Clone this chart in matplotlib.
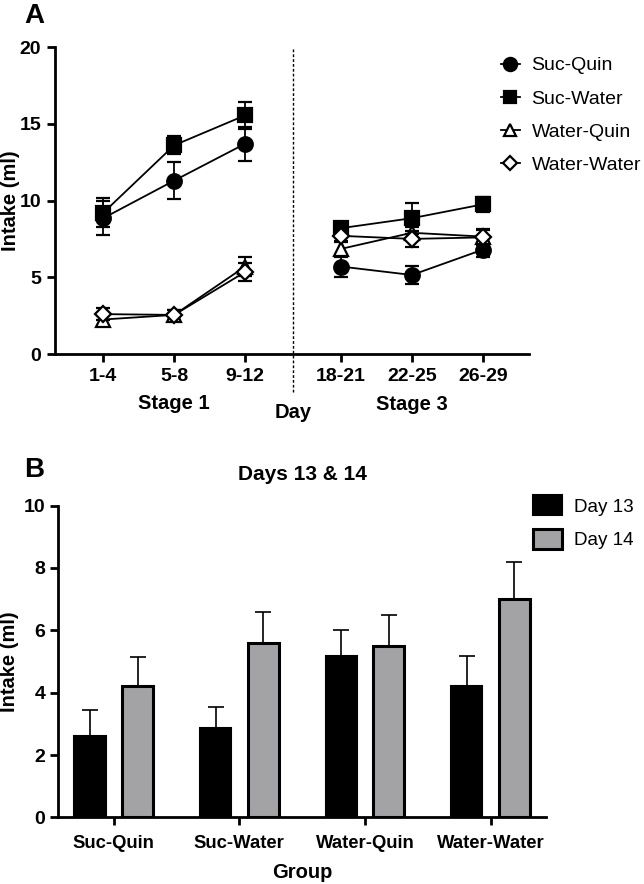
import numpy as np
import matplotlib.pyplot as plt
from matplotlib.lines import Line2D

plt.rcParams['font.family'] = ['Liberation Sans', 'DejaVu Sans']

# panel A data
day_labels = ["1-4", "5-8", "9-12", "18-21", "22-25", "26-29"]
groups = ["Suc-Quin", "Suc-Water", "Water-Quin", "Water-Water"]
suc_quin = [8.85, 11.3, 13.7, 5.7, 5.15, 6.8]
suc_quin_err = [1.1, 1.2, 1.1, 0.7, 0.6, 0.5]
suc_water = [9.2, 13.6, 15.55, 8.2, 8.85, 9.75]
suc_water_err = [0.95, 0.6, 0.9, 0.4, 1.0, 0.5]
water_quin = [2.25, 2.55, 5.7, 6.85, 7.9, 7.65]
water_quin_err = [0.4, 0.3, 0.6, 0.5, 0.4, 0.5]
water_water = [2.6, 2.55, 5.35, 7.7, 7.5, 7.6]
water_water_err = [0.4, 0.3, 0.6, 0.4, 0.5, 0.5]

# panel B data
day13 = [2.6, 2.88, 5.19, 4.22]
day13_err = [0.85, 0.67, 0.82, 0.97]
day14 = [4.22, 5.58, 5.5, 7.0]
day14_err = [0.93, 1.0, 0.99, 1.18]

fig = plt.figure(figsize=(6.44, 8.84), dpi=100)

# ---------------- A ----------------
ax = fig.add_axes([0.0854, 0.5995, 0.736, 0.3473])
xpos = np.array([0, 1, 2, 3.35, 4.35, 5.35])
styles = [
    (suc_quin, suc_quin_err, "o", "black", 10.5),
    (suc_water, suc_water_err, "s", "black", 10),
    (water_quin, water_quin_err, "^", "white", 10),
    (water_water, water_water_err, "D", "white", 8),
]
handles = []
for (vals, err, m, fc, ms), lab in zip(styles, groups):
    for seg in [slice(0, 3), slice(3, 6)]:
        ax.errorbar(xpos[seg], np.array(vals)[seg], yerr=np.array(err)[seg],
                    marker=m, ms=ms, mfc=fc, mec="black", mew=1.6,
                    color="black", lw=1.3, capsize=5, elinewidth=1.3,
                    capthick=1.3)
    handles.append(Line2D([], [], marker=m, ms=ms - 1, mfc=fc, mec="black",
                          mew=1.6, color="black", lw=1.3, label=lab))

ax.axvline(2.675, ymin=-0.125, ymax=1.0, color="black", lw=1,
           dashes=(2, 1.5), clip_on=False)
ax.set_xlim(-0.68, 6.0)
ax.set_ylim(0, 20)
ax.set_yticks([0, 5, 10, 15, 20])
ax.set_xticks(xpos)
ax.set_xticklabels(day_labels)
ax.spines[['top', 'right']].set_visible(False)
for s in ['left', 'bottom']:
    ax.spines[s].set_linewidth(2)
ax.tick_params(width=2, length=6, labelsize=14, pad=4)
for t in ax.get_xticklabels() + ax.get_yticklabels():
    t.set_fontweight("bold")
ax.set_ylabel("Intake (ml)", fontsize=14.5, fontweight="bold")
ax.yaxis.set_label_coords(-0.073, 0.5)
ax.text(1, -0.16, "Stage 1", transform=ax.get_xaxis_transform(),
        ha="center", va="center", fontsize=14.5, fontweight="bold")
ax.text(4.35, -0.165, "Stage 3", transform=ax.get_xaxis_transform(),
        ha="center", va="center", fontsize=14.5, fontweight="bold")
ax.text(2.675, -0.19, "Day", transform=ax.get_xaxis_transform(),
        ha="center", va="center", fontsize=14.5, fontweight="bold")
ax.legend(handles=handles, loc="upper left", bbox_to_anchor=(0.903, 1.025),
          frameon=False, fontsize=14, handlelength=1.0, handletextpad=0.6,
          labelspacing=0.8)
fig.text(0.038, 0.997, "A", fontsize=20, fontweight="bold", va="top")

# ---------------- B ----------------
bx = fig.add_axes([0.0906, 0.0754, 0.757, 0.3526])
gx = np.arange(len(groups))
bx.bar(gx - 0.188, day13, width=0.247, color="black", edgecolor="black",
       lw=1.5, label="Day 13")
bx.bar(gx + 0.19, day14, width=0.247, color="#a3a3a5", edgecolor="black",
       lw=2.2, label="Day 14")
bx.errorbar(gx - 0.188, day13, yerr=[np.zeros(4), day13_err], fmt="none",
            ecolor="black", elinewidth=1.2, capsize=5.5, capthick=1.2)
bx.errorbar(gx + 0.19, day14, yerr=[np.zeros(4), day14_err], fmt="none",
            ecolor="black", elinewidth=1.2, capsize=5.5, capthick=1.2)
bx.set_xlim(-0.44, 3.44)
bx.set_ylim(0, 10)
bx.set_yticks([0, 2, 4, 6, 8, 10])
bx.set_xticks(gx)
bx.set_xticklabels(groups)
bx.spines[['top', 'right']].set_visible(False)
for s in ['left', 'bottom']:
    bx.spines[s].set_linewidth(2)
bx.tick_params(width=2, length=6)
bx.tick_params(axis="x", labelsize=13.3, pad=6.5)
bx.tick_params(axis="y", labelsize=14)
for t in bx.get_xticklabels() + bx.get_yticklabels():
    t.set_fontweight("bold")
bx.set_ylabel("Intake (ml)", fontsize=14.5, fontweight="bold")
bx.yaxis.set_label_coords(-0.081, 0.5)
bx.set_xlabel("Group", fontsize=14.5, fontweight="bold")
bx.xaxis.set_label_coords(0.5, -0.176)
bx.xaxis.label.set_va("center")
bx.text(0.5, 1.1, "Days 13 & 14", transform=bx.transAxes, ha="center",
        va="center", fontsize=15, fontweight="bold")
bx.legend(loc="upper left", bbox_to_anchor=(0.939, 1.088), frameon=False,
          fontsize=13.6, handlelength=1.55, handleheight=1.25,
          handletextpad=0.6, labelspacing=0.7)
fig.text(0.038, 0.483, "B", fontsize=20, fontweight="bold", va="top")

fig.savefig("out.png", dpi=100)
